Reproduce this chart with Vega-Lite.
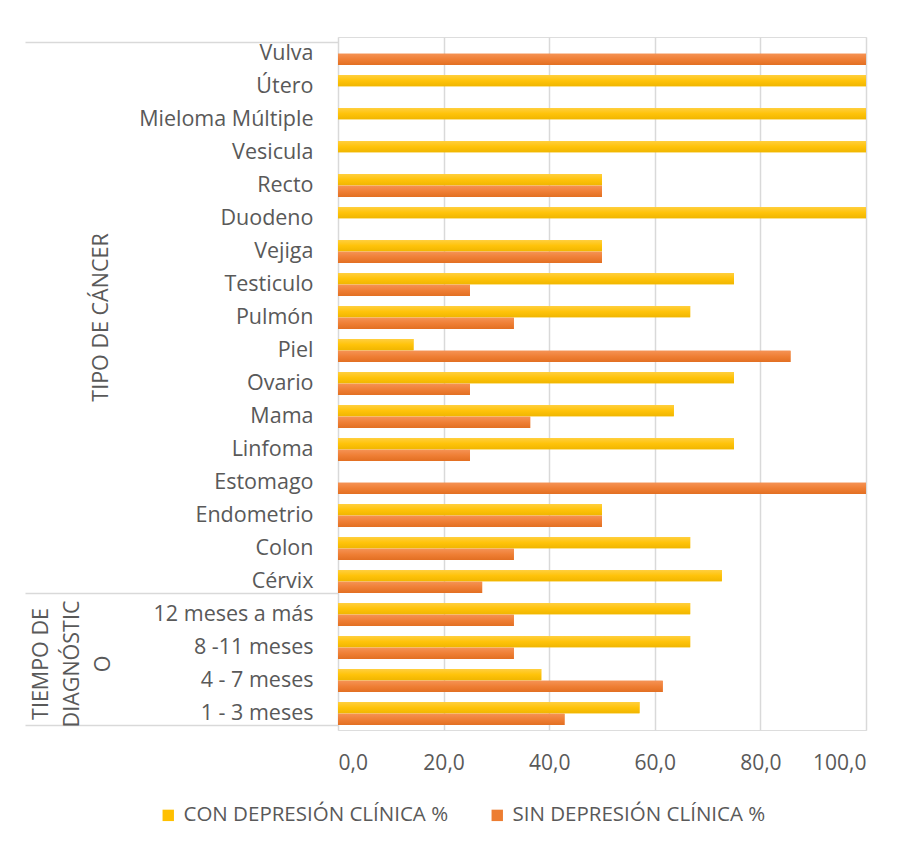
{
  "$schema": "https://vega.github.io/schema/vega-lite/v6.json",
  "width": 528,
  "height": 693,
  "padding": {"left": 24, "top": 26, "right": 30, "bottom": 10},
  "background": "white",
  "data": {
    "values": [
      {"cat": "Vulva", "serie": "CON DEPRESIÓN CLÍNICA %", "pct": 0},
      {"cat": "Vulva", "serie": "SIN DEPRESIÓN CLÍNICA %", "pct": 100},
      {"cat": "Útero", "serie": "CON DEPRESIÓN CLÍNICA %", "pct": 100},
      {"cat": "Útero", "serie": "SIN DEPRESIÓN CLÍNICA %", "pct": 0},
      {"cat": "Mieloma Múltiple", "serie": "CON DEPRESIÓN CLÍNICA %", "pct": 100},
      {"cat": "Mieloma Múltiple", "serie": "SIN DEPRESIÓN CLÍNICA %", "pct": 0},
      {"cat": "Vesicula", "serie": "CON DEPRESIÓN CLÍNICA %", "pct": 100},
      {"cat": "Vesicula", "serie": "SIN DEPRESIÓN CLÍNICA %", "pct": 0},
      {"cat": "Recto", "serie": "CON DEPRESIÓN CLÍNICA %", "pct": 50},
      {"cat": "Recto", "serie": "SIN DEPRESIÓN CLÍNICA %", "pct": 50},
      {"cat": "Duodeno", "serie": "CON DEPRESIÓN CLÍNICA %", "pct": 100},
      {"cat": "Duodeno", "serie": "SIN DEPRESIÓN CLÍNICA %", "pct": 0},
      {"cat": "Vejiga", "serie": "CON DEPRESIÓN CLÍNICA %", "pct": 50},
      {"cat": "Vejiga", "serie": "SIN DEPRESIÓN CLÍNICA %", "pct": 50},
      {"cat": "Testiculo", "serie": "CON DEPRESIÓN CLÍNICA %", "pct": 75},
      {"cat": "Testiculo", "serie": "SIN DEPRESIÓN CLÍNICA %", "pct": 25},
      {"cat": "Pulmón", "serie": "CON DEPRESIÓN CLÍNICA %", "pct": 66.7},
      {"cat": "Pulmón", "serie": "SIN DEPRESIÓN CLÍNICA %", "pct": 33.3},
      {"cat": "Piel", "serie": "CON DEPRESIÓN CLÍNICA %", "pct": 14.3},
      {"cat": "Piel", "serie": "SIN DEPRESIÓN CLÍNICA %", "pct": 85.7},
      {"cat": "Ovario", "serie": "CON DEPRESIÓN CLÍNICA %", "pct": 75},
      {"cat": "Ovario", "serie": "SIN DEPRESIÓN CLÍNICA %", "pct": 25},
      {"cat": "Mama", "serie": "CON DEPRESIÓN CLÍNICA %", "pct": 63.6},
      {"cat": "Mama", "serie": "SIN DEPRESIÓN CLÍNICA %", "pct": 36.4},
      {"cat": "Linfoma", "serie": "CON DEPRESIÓN CLÍNICA %", "pct": 75},
      {"cat": "Linfoma", "serie": "SIN DEPRESIÓN CLÍNICA %", "pct": 25},
      {"cat": "Estomago", "serie": "CON DEPRESIÓN CLÍNICA %", "pct": 0},
      {"cat": "Estomago", "serie": "SIN DEPRESIÓN CLÍNICA %", "pct": 100},
      {"cat": "Endometrio", "serie": "CON DEPRESIÓN CLÍNICA %", "pct": 50},
      {"cat": "Endometrio", "serie": "SIN DEPRESIÓN CLÍNICA %", "pct": 50},
      {"cat": "Colon", "serie": "CON DEPRESIÓN CLÍNICA %", "pct": 66.7},
      {"cat": "Colon", "serie": "SIN DEPRESIÓN CLÍNICA %", "pct": 33.3},
      {"cat": "Cérvix", "serie": "CON DEPRESIÓN CLÍNICA %", "pct": 72.7},
      {"cat": "Cérvix", "serie": "SIN DEPRESIÓN CLÍNICA %", "pct": 27.3},
      {"cat": "12 meses a más", "serie": "CON DEPRESIÓN CLÍNICA %", "pct": 66.7},
      {"cat": "12 meses a más", "serie": "SIN DEPRESIÓN CLÍNICA %", "pct": 33.3},
      {"cat": "8 -11 meses", "serie": "CON DEPRESIÓN CLÍNICA %", "pct": 66.7},
      {"cat": "8 -11 meses", "serie": "SIN DEPRESIÓN CLÍNICA %", "pct": 33.3},
      {"cat": "4 - 7 meses", "serie": "CON DEPRESIÓN CLÍNICA %", "pct": 38.5},
      {"cat": "4 - 7 meses", "serie": "SIN DEPRESIÓN CLÍNICA %", "pct": 61.5},
      {"cat": "1 - 3 meses", "serie": "CON DEPRESIÓN CLÍNICA %", "pct": 57.1},
      {"cat": "1 - 3 meses", "serie": "SIN DEPRESIÓN CLÍNICA %", "pct": 42.9}
    ]
  },
  "encoding": {
    "x": {
      "field": "pct",
      "type": "quantitative",
      "scale": {"domain": [0, 100], "nice": false},
      "axis": {
        "title": null,
        "values": [0, 20, 40, 60, 80, 100],
        "labelExpr": "replace(format(datum.value, '.1f'), '.', ',')",
        "grid": true,
        "gridColor": "#D9D9D9",
        "gridWidth": 1.5,
        "domain": false,
        "ticks": false,
        "tickSize": 0,
        "labelPadding": 33,
        "labelBaseline": "middle",
        "labelFont": "Open Sans",
        "labelFontSize": 21,
        "labelColor": "#595959"
      }
    },
    "yOffset": {"field": "serie", "type": "nominal", "scale": {"paddingInner": 0.04}}
  },
  "layer": [
    {
      "mark": {"type": "bar"},
      "encoding": {
        "y": {
          "field": "cat",
          "type": "nominal",
          "sort": ["Vulva", "Útero", "Mieloma Múltiple", "Vesicula", "Recto", "Duodeno", "Vejiga", "Testiculo", "Pulmón", "Piel", "Ovario", "Mama", "Linfoma", "Estomago", "Endometrio", "Colon", "Cérvix", "12 meses a más", "8 -11 meses", "4 - 7 meses", "1 - 3 meses"],
          "scale": {"paddingInner": 0.3, "paddingOuter": 0.15},
          "axis": {
            "orient": "left",
            "title": null,
            "domain": false,
            "ticks": true,
            "tickBand": "extent",
            "tickSize": 313,
            "tickWidth": 1.5,
            "tickColor": {"condition": {"test": "!isValid(datum.value) || datum.value == 'Cérvix' || datum.value == '1 - 3 meses'", "value": "#D9D9D9"}, "value": "transparent"},
            "labelPadding": -288,
            "labelFont": "Open Sans",
            "labelFontSize": 21.5,
            "labelColor": "#595959",
            "labelOverlap": false,
            "labelLimit": 0
          }
        },
        "color": {
          "field": "serie",
          "type": "nominal",
          "scale": {"range": ["#FFC000", "#ED7D31"]},
          "legend": {
            "orient": "none",
            "legendX": -180,
            "legendY": 768,
            "direction": "horizontal",
            "title": null,
            "symbolType": "square",
            "symbolSize": 130,
            "symbolStrokeWidth": 0,
            "labelFont": "Open Sans",
            "labelFontSize": 20.5,
            "labelColor": "#595959",
            "columnPadding": 38,
            "labelOffset": 5,
            "labelLimit": 0
          }
        }
      }
    },
    {
      "mark": {"type": "bar"},
      "encoding": {
        "y": {
          "field": "cat",
          "type": "nominal",
          "sort": ["Vulva", "Útero", "Mieloma Múltiple", "Vesicula", "Recto", "Duodeno", "Vejiga", "Testiculo", "Pulmón", "Piel", "Ovario", "Mama", "Linfoma", "Estomago", "Endometrio", "Colon", "Cérvix", "12 meses a más", "8 -11 meses", "4 - 7 meses", "1 - 3 meses"],
          "scale": {"paddingInner": 0.3, "paddingOuter": 0.15},
          "axis": {
            "orient": "left",
            "title": null,
            "domain": false,
            "ticks": false,
            "tickSize": 0,
            "labelExpr": "datum.value == 'Pulmón' ? 'TIPO DE  CÁNCER' : datum.value == '4 - 7 meses' ? ['TIEMPO DE', 'DIAGNÓSTIC', 'O'] : ''",
            "labelAngle": 270,
            "labelAlign": "center",
            "labelBaseline": "middle",
            "labelLineHeight": 31,
            "labelPadding": {"condition": {"test": "datum.value == '4 - 7 meses'", "value": 297}, "value": 237},
            "labelOffset": {"condition": {"test": "datum.value == '4 - 7 meses'", "value": -16.5}, "value": 0},
            "labelFont": "Open Sans",
            "labelFontSize": 21.5,
            "labelColor": "#595959",
            "labelOverlap": false,
            "labelLimit": 0
          }
        },
        "color": {
          "condition": {
            "test": "datum.serie == 'CON DEPRESIÓN CLÍNICA %'",
            "value": {"gradient": "linear", "x1": 0, "y1": 0, "x2": 0, "y2": 1, "stops": [{"offset": 0, "color": "#FFCF3F"}, {"offset": 0.5, "color": "#FFC30A"}, {"offset": 1, "color": "#F0B600"}]}
          },
          "value": {"gradient": "linear", "x1": 0, "y1": 0, "x2": 0, "y2": 1, "stops": [{"offset": 0, "color": "#F59254"}, {"offset": 0.5, "color": "#EF7F35"}, {"offset": 1, "color": "#E26F22"}]}
        }
      }
    }
  ],
  "resolve": {"axis": {"y": "independent"}}
}
